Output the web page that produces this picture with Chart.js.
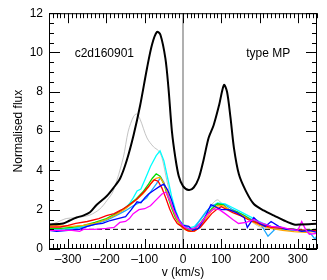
<!DOCTYPE html>
<html>
<head>
<meta charset="utf-8">
<script src="https://cdn.jsdelivr.net/npm/chart.js@4/dist/chart.umd.min.js"></script>
<style>
  html, body { margin: 0; padding: 0; background: #fff; }
  #wrap { width: 327px; height: 280px; }
</style>
</head>
<body>
<div id="wrap"><canvas id="chart" width="327" height="280"></canvas></div>
<script>
// velocity (km/s) and normalised flux for each spectrum
var blackVel = [-350,-313,-296,-278,-261,-243,-226,-199,-182,-164,-147,-129,-112,-94,-81,-68,-59,-46,-38,-29,-20,-11,0,15,28,41,54,67,80,94,107,115,124,133,146,164,185,212,238,264,290,308,350];
var blackFlux = [1.25,1.3,1.45,1.6,1.7,1.87,2.24,2.7,3.1,3.6,4.5,5.8,7.3,9.2,10.4,11.05,10.9,9.7,8.2,6.0,4.65,3.7,3.2,3.0,3.13,3.6,4.56,5.66,6.3,7.3,8.35,8.0,6.7,5.15,3.8,2.96,2.29,1.95,1.7,1.45,1.25,1.25,1.28];

var grayVel = [-350,-330,-305,-278,-243,-217,-199,-182,-156,-143,-129,-121,-112,-94,-77,-64,-55,-42,-25,-7,10,28,45,63,89,107,133,168,203,238,290,352];
var grayFlux = [1.2,1.35,1.55,1.6,1.73,2.04,2.46,2.96,4.65,6.0,6.75,6.87,6.6,5.65,5.2,5.0,4.65,3.47,2.1,1.36,1.2,1.1,1.45,1.95,2.5,2.2,1.87,1.53,1.1,1.03,0.94,0.94];

var cyanVel = [-350,-320,-290,-260,-230,-200,-175,-155,-140,-130,-120,-110,-100,-85,-70,-60,-50,-40,-30,-20,-10,0,15,30,50,70,90,110,130,150,170,190,210,230,250,270,300,330,350];
var cyanFlux = [1.0,1.0,1.05,1.15,1.3,1.5,1.8,2.0,2.3,2.6,2.95,3.05,3.5,4.2,4.75,5.0,4.5,3.6,2.7,2.0,1.5,1.25,1.05,1.15,1.6,2.1,2.35,2.3,2.1,1.9,1.7,1.5,1.3,1.15,1.1,1.0,0.95,0.9,0.95];

var skyVel = [-350,-320,-290,-260,-230,-200,-175,-150,-130,-110,-95,-85,-70,-58,-50,-40,-30,-20,-10,0,15,30,45,60,75,90,110,130,150,170,190,205,222,240,260,280,300,320,335,345,350];
var skyFlux = [0.95,0.95,1.0,1.1,1.25,1.45,1.7,1.95,2.2,2.4,2.6,2.9,3.3,3.65,3.4,2.8,2.2,1.7,1.35,1.15,1.0,1.05,1.5,1.9,2.2,2.3,2.25,2.0,1.8,1.6,1.4,1.2,0.65,1.0,1.05,0.95,0.95,0.9,0.75,0.5,0.7];

var greenVel = [-350,-320,-290,-260,-230,-200,-175,-150,-125,-105,-90,-80,-70,-60,-50,-40,-30,-20,-10,0,15,30,45,60,75,90,105,120,140,160,180,200,230,260,290,320,350];
var greenFlux = [1.05,1.05,1.1,1.2,1.35,1.55,1.8,2.1,2.5,2.9,3.3,3.6,3.83,3.7,3.3,2.7,2.1,1.6,1.3,1.1,0.95,1.0,1.3,1.7,2.05,2.3,2.25,2.0,1.9,1.7,1.45,1.3,1.15,1.05,1.0,0.95,1.0];

var orangeVel = greenVel;
var orangeFlux = [1.2,1.18,1.15,1.2,1.3,1.5,1.75,2.05,2.45,2.8,3.15,3.45,3.6,3.65,3.35,2.8,2.2,1.7,1.3,1.05,0.9,0.9,1.15,1.55,1.95,2.2,2.2,2.0,1.85,1.65,1.4,1.2,1.05,0.95,0.88,0.85,0.9];

var redVel = [-350,-320,-300,-280,-250,-220,-200,-180,-160,-140,-120,-100,-85,-75,-65,-55,-45,-35,-25,-15,0,10,20,30,45,60,75,90,100,115,130,150,170,190,210,230,260,290,320,350];
var redFlux = [1.12,1.12,1.2,1.3,1.4,1.55,1.7,1.8,2.0,2.25,2.55,2.95,3.3,3.52,3.45,3.1,2.6,2.05,1.6,1.3,1.1,0.95,0.9,0.92,1.1,1.45,1.8,2.05,2.15,2.0,1.85,1.7,1.5,1.35,1.2,1.1,1.05,1.0,0.95,0.95];

var blueVel = [-350,-330,-300,-270,-250,-230,-210,-190,-170,-150,-135,-120,-110,-100,-90,-75,-60,-50,-40,-30,-20,-10,0,15,25,40,55,73,90,100,120,140,160,168,185,200,215,230,250,270,290,310,330,350];
var blueFlux = [0.95,0.9,0.95,1.0,1.15,1.25,1.3,1.45,1.55,1.65,2.0,2.4,2.35,2.6,2.8,3.0,3.2,3.3,3.0,2.5,1.9,1.45,1.2,1.15,0.95,1.05,1.5,2.26,2.1,2.0,2.0,1.85,1.6,1.1,1.6,1.3,1.15,1.4,1.15,1.0,1.0,0.9,0.95,0.85];

var magentaVel = [-350,-320,-290,-270,-260,-230,-200,-180,-165,-150,-140,-130,-115,-100,-85,-70,-55,-45,-35,-25,-15,-5,5,20,35,50,65,80,95,110,130,145,165,185,200,230,260,280,300,310,320,330,350];
var magentaFlux = [0.95,0.95,0.95,0.9,1.0,1.0,1.05,1.1,1.35,1.4,1.55,1.8,2.0,2.05,2.2,2.5,2.8,2.9,2.5,2.0,1.6,1.3,1.1,1.0,1.1,1.4,1.8,2.04,2.0,1.8,1.5,1.3,1.35,1.5,1.35,1.15,1.1,1.0,0.95,1.4,1.0,0.75,0.8];

var continuum = 1;
var xTicks = [-300,-200,-100,0,100,200,300];
var yTicks = [0,2,4,6,8,10,12];
var labelLeft = 'c2d160901';
var labelRight = 'type MP';

function pts(vel, flux) {
    return vel.map(function (v, i) { return { x: v, y: flux[i] }; });
}

function line(data, color, width, tension) {
    return { data: data, borderColor: color, borderWidth: width, pointRadius: 0, tension: tension || 0, fill: false };
}

var FONT = '"Liberation Sans", Arial, sans-serif';
Chart.defaults.font.family = FONT;
Chart.defaults.font.size = 12;
Chart.defaults.color = '#000';

// box with inward ticks plus the two labels
var frame = {
    id: 'frame',
    afterDatasetsDraw: function (chart) {
        var ctx = chart.ctx, a = chart.chartArea, x = chart.scales.x, y = chart.scales.y;
        ctx.save();
        ctx.strokeStyle = '#000';
        ctx.lineWidth = 1;
        ctx.strokeRect(a.left + 0.5, a.top + 0.5, a.right - a.left - 1, a.bottom - a.top - 1);
        ctx.beginPath();
        for (var v = -350; v <= 350; v += 10) {
            var px = Math.round(x.getPixelForValue(v)) + 0.5;
            var len = v % 100 === 0 ? 10 : 5;
            ctx.moveTo(px, a.bottom); ctx.lineTo(px, a.bottom - len);
            ctx.moveTo(px, a.top); ctx.lineTo(px, a.top + len);
        }
        for (var f = 0; f <= 12; f += 0.5) {
            var py = Math.round(y.getPixelForValue(f)) + 0.5;
            var l = f % 2 === 0 ? 11 : 5;
            ctx.moveTo(a.left, py); ctx.lineTo(a.left + l, py);
            ctx.moveTo(a.right, py); ctx.lineTo(a.right - l, py);
        }
        ctx.stroke();
        ctx.fillStyle = '#000';
        ctx.font = '12px ' + FONT;
        ctx.textBaseline = 'middle';
        ctx.textAlign = 'left';
        ctx.fillText(labelLeft, x.getPixelForValue(-283), y.getPixelForValue(9.93));
        ctx.fillText(labelRight, x.getPixelForValue(165), y.getPixelForValue(9.93));
        ctx.restore();
    }
};

new Chart(document.getElementById('chart'), {
    type: 'line',
    data: {
        datasets: [
            line(pts(blackVel, blackFlux), '#000000', 2, 0.3),
            line(pts(magentaVel, magentaFlux), '#ff00ff', 1.3),
            line(pts(blueVel, blueFlux), '#0000ff', 1.3),
            line(pts(redVel, redFlux), '#ff0000', 1.3),
            line(pts(orangeVel, orangeFlux), '#ffa500', 1.3),
            line(pts(greenVel, greenFlux), '#00dd00', 1.3),
            line(pts(skyVel, skyFlux), '#1aa8ff', 1.3),
            line(pts(cyanVel, cyanFlux), '#00ffff', 1.3),
            line(pts(grayVel, grayFlux), '#b4b4b4', 0.8, 0.3),
            Object.assign(line([{ x: -350, y: continuum }, { x: 350, y: continuum }], '#000000', 1), { borderDash: [5, 3] }),
            line([{ x: 0, y: 0 }, { x: 0, y: 12 }], '#b0b0b0', 2)
        ]
    },
    options: {
        responsive: false,
        animation: false,
        devicePixelRatio: 1,
        layout: { padding: { top: 10, right: 10, left: 0, bottom: 0 } },
        plugins: { legend: { display: false }, tooltip: { enabled: false } },
        scales: {
            x: {
                type: 'linear', min: -350, max: 350,
                grid: { display: false, drawTicks: false }, border: { display: false },
                afterBuildTicks: function (s) { s.ticks = xTicks.map(function (v) { return { value: v }; }); },
                afterFit: function (s) { s.height = 31; },
                ticks: {
                    padding: 3, maxRotation: 0, autoSkip: false,
                    callback: function (v) { return v < 0 ? '\u2013' + (-v) : String(v); }
                },
                title: { display: true, text: 'v (km/s)', padding: { top: 0, bottom: 0 } }
            },
            y: {
                type: 'linear', min: 0, max: 12,
                grid: { display: false, drawTicks: false }, border: { display: false },
                afterBuildTicks: function (s) { s.ticks = yTicks.map(function (v) { return { value: v }; }); },
                afterFit: function (s) { s.width = 49; },
                ticks: { padding: 6 },
                title: { display: true, text: 'Normalised flux', padding: { top: 11, bottom: 0 } }
            }
        }
    },
    plugins: [frame]
});
</script>
</body>
</html>
